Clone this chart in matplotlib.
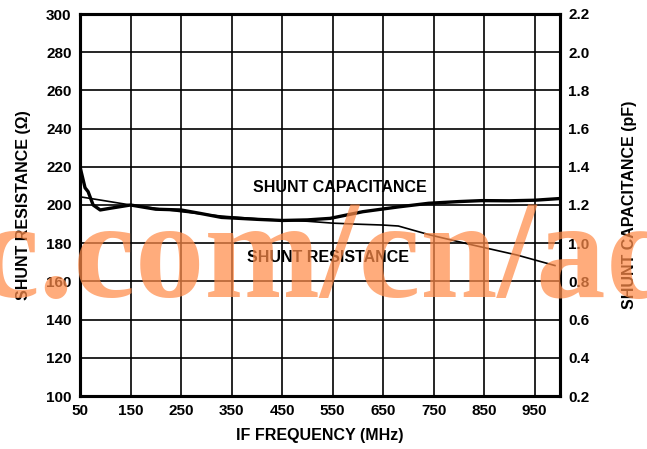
import matplotlib
matplotlib.use("Agg")
import matplotlib.pyplot as plt

# shunt resistance (left axis, ohm)
res_freq = [50, 90, 150, 250, 330, 400, 450, 500, 550, 595, 650, 680, 743, 828, 915, 990]
res_ohm = [204.3, 202.6, 200.0, 196.5, 194.2, 192.8, 192.0, 191.5, 190.5, 190.0, 189.5, 189.0,
           184.3, 179.0, 173.8, 168.3]

# shunt capacitance (right axis, pF)
cap_freq = [50, 60, 66, 76, 90, 110, 150, 200, 250, 290, 330, 400, 450, 500, 545, 610, 680,
            740, 800, 845, 900, 950, 995]
cap_pf = [1.40, 1.29, 1.27, 1.20, 1.174, 1.183, 1.20, 1.178, 1.174, 1.155, 1.135, 1.125, 1.119,
          1.122, 1.13, 1.165, 1.19, 1.209, 1.218, 1.223, 1.222, 1.225, 1.233]

x_ticks = [50, 150, 250, 350, 450, 550, 650, 750, 850, 950]
left_ticks = [100, 120, 140, 160, 180, 200, 220, 240, 260, 280, 300]
right_ticks = [0.2, 0.4, 0.6, 0.8, 1.0, 1.2, 1.4, 1.6, 1.8, 2.0, 2.2]

plt.rcParams["font.family"] = ["Liberation Sans", "DejaVu Sans"]
plt.rcParams["font.weight"] = "bold"

fig = plt.figure(figsize=(6.47, 4.49), dpi=100)
ax = fig.add_axes([80 / 647, 1 - 396 / 449, 480 / 647, 382 / 449])
ax2 = ax.twinx()

ax.plot(res_freq, res_ohm, color="black", lw=1.2, zorder=3)
ax2.plot(cap_freq, cap_pf, color="black", lw=2.4, zorder=3)

ax.set_xlim(50, 1000)
ax.set_ylim(100, 300)
ax2.set_ylim(0.2, 2.2)
ax.set_xticks(x_ticks)
ax.set_yticks(left_ticks)
ax2.set_yticks(right_ticks)
ax2.set_yticklabels([f"{v:.1f}" for v in right_ticks])
ax.grid(True, color="black", lw=1.2, zorder=1)

for a in (ax, ax2):
    a.tick_params(length=0, labelsize=11, pad=6)
    for s in a.spines.values():
        s.set_linewidth(2.2)
for lab in ax.get_xticklabels() + ax.get_yticklabels() + ax2.get_yticklabels():
    lab.set_fontweight("bold")

ax.set_xlabel("IF FREQUENCY (MHz)", fontsize=11.5, fontweight="bold", labelpad=7)
ax.set_ylabel("SHUNT RESISTANCE (Ω)", fontsize=11.5, fontweight="bold", labelpad=11)
ax2.set_ylabel("SHUNT CAPACITANCE (pF)", fontsize=11.5, fontweight="bold", labelpad=23)

ax.text(565, 209, "SHUNT CAPACITANCE", fontsize=11.5, fontweight="bold", ha="center", va="center", zorder=4)
ax.text(541, 172.3, "SHUNT RESISTANCE", fontsize=11.5, fontweight="bold", ha="center", va="center", zorder=4)

# watermark from the source picture
fig.text(-0.035, 1 - 297 / 449, "c.com/cn/ad", fontsize=100, family=["Liberation Serif"],
         fontweight="bold", color="#FF8C4A", alpha=0.72, ha="left", va="baseline", zorder=10)

fig.savefig("out.png", dpi=100)
